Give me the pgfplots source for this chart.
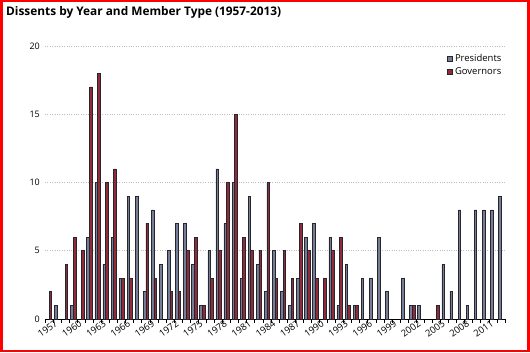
\documentclass[border=0pt]{standalone}
\usepackage{pgfplots}
\pgfplotsset{compat=1.18}
\usepackage{pgfplotstable}
\usepackage{fontspec}
\setmainfont{Open Sans}
\definecolor{pres}{HTML}{747E96}
\definecolor{gov}{HTML}{922A39}
\definecolor{edge}{HTML}{26262C}

\pgfplotstableread{
year P G
1957 0 2
1958 1 0
1959 0 4
1960 1 6
1961 0 5
1962 6 17
1963 10 18
1964 4 10
1965 6 11
1966 3 3
1967 9 3
1968 9 0
1969 2 7
1970 8 3
1971 4 0
1972 5 2
1973 7 2
1974 7 5
1975 4 6
1976 1 1
1977 5 3
1978 11 5
1979 7 10
1980 10 15
1981 3 6
1982 9 5
1983 4 5
1984 2 10
1985 5 3
1986 2 5
1987 1 3
1988 3 7
1989 6 5
1990 7 3
1991 0 3
1992 6 5
1993 1 6
1994 4 1
1995 1 1
1996 3 0
1997 3 0
1998 6 0
1999 2 0
2000 0 0
2001 3 0
2002 1 1
2003 1 0
2004 0 0
2005 0 1
2006 4 0
2007 2 0
2008 8 0
2009 1 0
2010 8 0
2011 8 0
2012 8 0
2013 9 0
}\data

\begin{document}
\begin{tikzpicture}[x=1bp,y=1bp]
\path (0,0) rectangle (530,352);
\draw[red, line width=2.5bp] (1.25,1.25) rectangle (528.5,350.75);
\node[anchor=base west, inner sep=0pt, font=\bfseries\fontsize{11.9}{14}\selectfont] at (6,336.5) {Dissents by Year and Member Type (1957-2013)};
\begin{axis}[
  at={(45bp,33bp)}, anchor=south west,
  scale only axis, width=460bp, height=273bp,
  xmin=1956.5, xmax=2013.5, ymin=0, ymax=20,
  ybar, bar width=2.6bp,
  ytick={0,5,...,20},
  xtick={1957,1960,...,2011},
  minor xtick={1956.5,1957.5,...,2013.5},
  axis x line*=bottom, axis y line*=left,
  y axis line style={draw=none},
  x axis line style={-, line width=0.8bp, black},
  axis line style={-},
  major tick length=0pt,
  minor tick length=3.5bp,
  tick align=outside,
  xtick style={draw=none},
  minor x tick style={black, line width=0.7bp, draw=black},
  ytick style={draw=none},
  ymajorgrids,
  grid style={dotted, gray!50, line width=0.6bp},
  /pgf/number format/assume math mode=true,
  /pgf/number format/1000 sep={},
  yticklabel style={font=\fontsize{9}{10}\selectfont, inner sep=0pt, xshift=-5bp},
  xticklabel style={font=\fontsize{9.4}{10}\selectfont, rotate=36, anchor=north east, inner sep=0pt, xshift=4bp, yshift=-3.5bp},
  restrict y to domain=0.5:25,
  legend style={draw=none, fill=none, at={(0.874,0.978)}, anchor=north west, inner sep=0pt,
    font=\fontsize{9.5}{11}\selectfont, row sep=1bp, cells={anchor=west}},
  legend cell align=left,
  legend image code/.code={\draw[#1, line width=0.6bp] (0bp,-2.6bp) rectangle (5.2bp,2.6bp);},
]
\addplot[fill=pres, draw=edge, line width=0.6bp, bar shift=-1.3bp] table[x=year, y=P] {\data};
\addplot[fill=gov, draw=edge, line width=0.6bp, bar shift=1.3bp] table[x=year, y=G] {\data};
\legend{Presidents, Governors}
\end{axis}
\end{tikzpicture}
\end{document}
